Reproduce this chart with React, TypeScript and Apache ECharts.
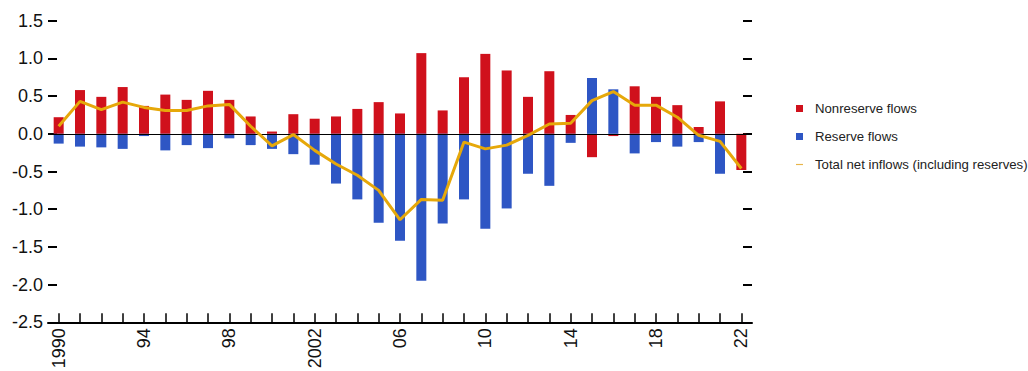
import React, { useEffect, useRef } from "react";
import * as echarts from "echarts";

const years: string[] = [
  "1990","1991","1992","1993","1994","1995","1996","1997","1998","1999",
  "2000","2001","2002","2003","2004","2005","2006","2007","2008","2009",
  "2010","2011","2012","2013","2014","2015","2016","2017","2018","2019",
  "2020","2021","2022",
];
const tickLabels: string[] = ["1990", "94", "98", "2002", "06", "10", "14", "18", "22"];
const yTicks: number[] = [-2.5, 1.5, 0.5];

const nonreserve: number[] = [
  0.22, 0.58, 0.49, 0.62, 0.37, 0.52, 0.45, 0.57, 0.45, 0.23,
  0.03, 0.26, 0.2, 0.23, 0.33, 0.42, 0.27, 1.07, 0.31, 0.75,
  1.06, 0.84, 0.49, 0.83, 0.25, -0.31, -0.03, 0.63, 0.49, 0.38,
  0.09, 0.43, -0.48,
];
const reserve: number[] = [
  -0.13, -0.17, -0.18, -0.2, -0.03, -0.22, -0.15, -0.19, -0.06, -0.15,
  -0.2, -0.27, -0.41, -0.66, -0.87, -1.18, -1.42, -1.95, -1.19, -0.87,
  -1.26, -0.99, -0.53, -0.69, -0.12, 0.74, 0.59, -0.26, -0.11, -0.17,
  -0.11, -0.53, 0,
];
const total: number[] = [
  0.1, 0.43, 0.32, 0.42, 0.35, 0.31, 0.31, 0.37, 0.39, 0.1,
  -0.16, -0.01, -0.22, -0.4, -0.55, -0.75, -1.14, -0.87, -0.88, -0.11,
  -0.2, -0.15, -0.02, 0.13, 0.14, 0.44, 0.56, 0.38, 0.38, 0.22,
  -0.02, -0.1, -0.46,
];

const FONT = "'Liberation Sans', Arial, sans-serif";

export default function App() {
  const ref = useRef<HTMLDivElement>(null);
  useEffect(() => {
    if (!ref.current) return;
    const chart = echarts.init(ref.current, undefined, { renderer: "svg" });
    const yAxisCommon = {
      type: "value" as const,
      min: yTicks[0],
      max: yTicks[1],
      interval: yTicks[2],
      axisLine: { show: false },
      axisTick: { show: true, inside: true, length: 9, lineStyle: { color: "#000", width: 2 } },
      splitLine: { show: false },
    };
    chart.setOption({
      animation: false,
      backgroundColor: "#fff",
      grid: { left: 48, top: 20.7, width: 704, height: 301.6, containLabel: false, outerBoundsMode: "none" },
      legend: {
        orient: "vertical",
        left: 791,
        top: 97,
        itemGap: 15,
        itemWidth: 7,
        itemHeight: 7,
        textStyle: { fontFamily: FONT, fontSize: 13.2, color: "#222", padding: [0, 0, 0, 7] },
        data: [
          { name: "Nonreserve flows", icon: "rect" },
          { name: "Reserve flows", icon: "rect" },
          { name: "Total net inflows (including reserves)", icon: "path://M0,0 L6,0 L6,1 L0,1 Z", itemStyle: { color: "#E8B54A" } },
        ],
      },
      xAxis: {
        type: "category",
        data: years,
        boundaryGap: true,
        axisLine: { show: true, onZero: false, lineStyle: { color: "#000", width: 2 } },
        axisTick: { show: true, inside: true, length: 9, interval: 0, alignWithLabel: true, lineStyle: { color: "#000", width: 1.5 } },
        axisLabel: {
          interval: 3,
          rotate: 90,
          margin: 6,
          fontFamily: FONT,
          fontSize: 18,
          color: "#111",
          formatter: (_v: string, i: number) => tickLabels[Math.round(i / 4)] ?? "",
        },
      },
      yAxis: [
        {
          ...yAxisCommon,
          position: "left",
          axisLabel: {
            show: true,
            margin: 5,
            fontFamily: FONT,
            fontSize: 18,
            color: "#111",
            formatter: (v: number) => v.toFixed(1),
          },
        },
        {
          ...yAxisCommon,
          position: "right",
          axisLabel: { show: false },
        },
      ],
      series: [
        {
          name: "Nonreserve flows",
          type: "bar",
          stack: "flows",
          barWidth: 10,
          data: nonreserve,
          itemStyle: { color: "#D0111C" },
          markLine: {
            silent: true,
            symbol: ["none", "none"],
            label: { show: false },
            lineStyle: { color: "#000", width: 1, type: "solid" },
            data: [{ yAxis: 0 }],
          },
        },
        {
          name: "Reserve flows",
          type: "bar",
          stack: "flows",
          barWidth: 10,
          data: reserve,
          itemStyle: { color: "#2E56C4" },
        },
        {
          name: "Total net inflows (including reserves)",
          type: "line",
          data: total,
          symbol: "none",
          z: 5,
          lineStyle: { color: "#E6A80A", width: 3 },
          itemStyle: { color: "#E8B54A" },
        },
      ],
    });
    return () => chart.dispose();
  }, []);
  return (
    <div
      ref={ref}
      style={{ position: "absolute", left: 0, top: 0, width: 1028, height: 371 }}
    />
  );
}
